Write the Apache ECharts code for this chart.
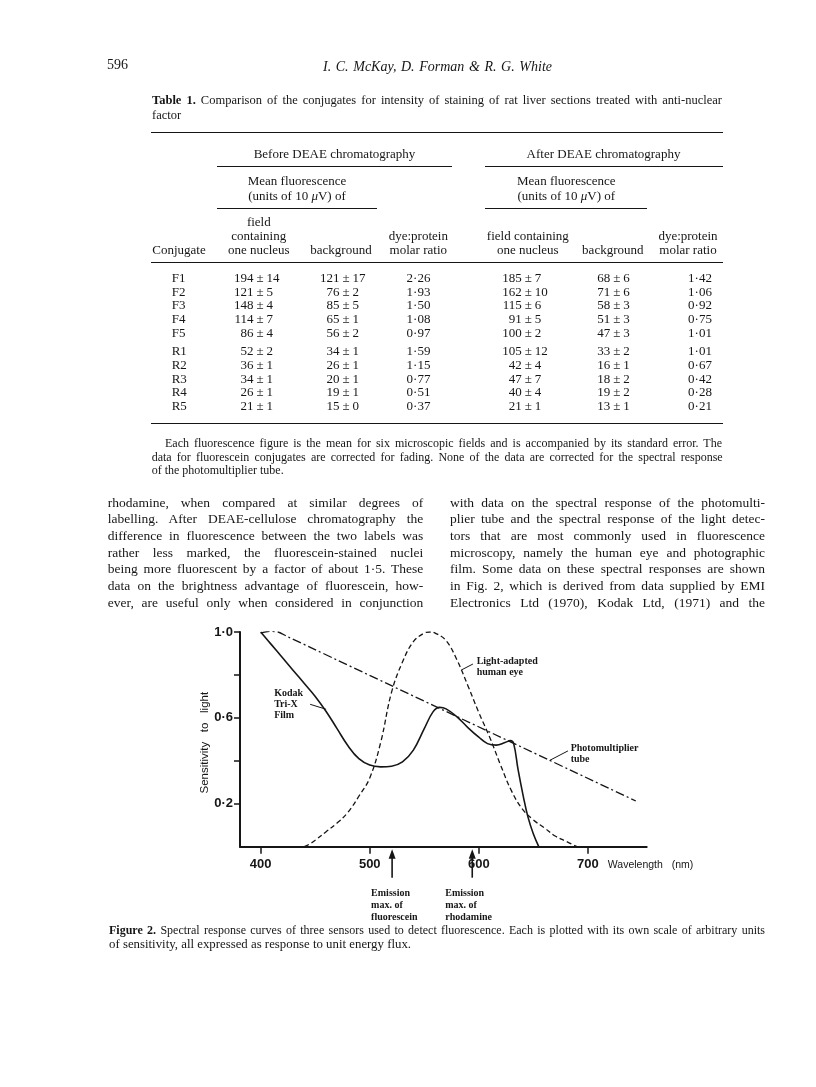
<!DOCTYPE html>
<html><head><meta charset="utf-8">
<script src="https://cdn.jsdelivr.net/npm/echarts@6/dist/echarts.min.js"></script>
<style>
html,body{margin:0;padding:0;background:#fff;}
#page{position:relative;width:816px;height:1087px;overflow:hidden;background:#fff;font-family:"Liberation Serif","Times New Roman",serif;color:#161616;}
#chart{position:absolute;left:0;top:0;width:816px;height:1087px;}
.t{position:absolute;white-space:nowrap;line-height:1;}
.rule{position:absolute;height:0;border-top-style:solid;border-top-color:#161616;}
</style></head><body><div id="page"><div id="chart"></div></div>
<script>
// ---------- Figure 2 data ----------
const wavelengthTicks = [400, 500, 600, 700];
const sensitivityTicks = [0.2, 0.4, 0.6, 0.8, 1.0];
const sensitivityLabels = [0.2, 0.6, 1.0];
const photomultiplier = [[400,0.995],[408,1.003],[416,1.0],[424,0.98],[744,0.213]];
const humanEye = [[440,0],[445,0.013],[450,0.03],[460,0.07],[470,0.11],[480,0.16],[490,0.235],[500,0.32],[510,0.485],[520,0.72],[530,0.86],[540,0.955],[550,0.995],[555,1.0],[560,0.995],[570,0.96],[580,0.87],[590,0.75],[600,0.625],[610,0.51],[620,0.38],[630,0.26],[640,0.175],[650,0.125],[660,0.088],[670,0.05],[680,0.025],[690,0]];
const kodakTriX = [[400,1.0],[410,0.94],[420,0.88],[430,0.82],[440,0.76],[450,0.70],[460,0.63],[470,0.55],[480,0.47],[490,0.41],[500,0.38],[510,0.372],[520,0.375],[530,0.395],[540,0.45],[550,0.55],[558,0.628],[564,0.649],[570,0.642],[580,0.605],[590,0.555],[600,0.51],[608,0.48],[616,0.473],[624,0.485],[629,0.494],[632,0.48],[636,0.36],[641,0.23],[645,0.14],[650,0.06],[655,0]];
const emissionMaxima = [520.5, 594];
const emissionNames = ['fluorescein', 'rhodamine'];

// ---------- Table 1 data ----------
const conjugates = ['F1','F2','F3','F4','F5','R1','R2','R3','R4','R5'];
const beforeField = [[194,14],[121,5],[148,4],[114,7],[86,4],[52,2],[36,1],[34,1],[26,1],[21,1]];
const beforeBackground = [[121,17],[76,2],[85,5],[65,1],[56,2],[34,1],[26,1],[20,1],[19,1],[15,0]];
const beforeRatio = ['2·26','1·93','1·50','1·08','0·97','1·59','1·15','0·77','0·51','0·37'];
const afterField = [[185,7],[162,10],[115,6],[91,5],[100,2],[105,12],[42,4],[47,7],[40,4],[21,1]];
const afterBackground = [[68,6],[71,6],[58,3],[51,3],[47,3],[33,2],[16,1],[18,2],[19,2],[13,1]];
const afterRatio = ['1·42','1·06','0·92','0·75','1·01','1·01','0·67','0·42','0·28','0·21'];

// ---------- Page text ----------
const captionTable = ['<b>Table 1.</b> Comparison of the conjugates for intensity of staining of rat liver sections treated with anti-nuclear','factor'];
const footnote = ['Each fluorescence figure is the mean for six microscopic fields and is accompanied by its standard error. The','data for fluorescein conjugates are corrected for fading. None of the data are corrected for the spectral response','of the photomultiplier tube.'];
const bodyLeft = ['rhodamine, when compared at similar degrees of','labelling. After DEAE-cellulose chromatography the','difference in fluorescence between the two labels was','rather less marked, the fluorescein-stained nuclei','being more fluorescent by a factor of about 1·5. These','data on the brightness advantage of fluorescein, how-','ever, are useful only when considered in conjunction'];
const bodyRight = ['with data on the spectral response of the photomulti-','plier tube and the spectral response of the light detec-','tors that are most commonly used in fluorescence','microscopy, namely the human eye and photographic','film. Some data on these spectral responses are shown','in Fig. 2, which is derived from data supplied by EMI','Electronics Ltd (1970), Kodak Ltd, (1971) and the'];
const captionFig = ['<b>Figure 2.</b> Spectral response curves of three sensors used to detect fluorescence. Each is plotted with its own scale of arbitrary units','of sensitivity, all expressed as response to unit energy flux.'];

const page = document.getElementById('page');
function txt(html, x, yc, o) {
  o = o || {};
  const d = document.createElement('div');
  d.className = 't';
  const fs = o.fs || 13;
  d.style.fontSize = fs + 'px';
  d.style.top = (yc - fs / 2) + 'px';
  if (o.bold) d.style.fontWeight = 'bold';
  if (o.italic) d.style.fontStyle = 'italic';
  if (o.family) d.style.fontFamily = o.family;
  d.innerHTML = html;
  page.appendChild(d);
  const w = d.getBoundingClientRect().width;
  let left = x;
  if (o.align === 'center') left = x - w / 2;
  else if (o.align === 'right') left = x - w;
  if (o.width) {
    const n = (d.textContent.match(/ /g) || []).length;
    if (!o.scaleOnly && w < o.width && n > 0) d.style.wordSpacing = ((o.width - w) / n) + 'px';
    else { d.style.transformOrigin = '0 0'; d.style.transform = 'scaleX(' + (o.width / w) + ')'; }
  }
  d.style.left = left + 'px';
  return d;
}
function rule(x1, x2, y, th) {
  const d = document.createElement('div');
  d.className = 'rule';
  d.style.left = x1 + 'px'; d.style.width = (x2 - x1) + 'px';
  d.style.top = (y - th / 2) + 'px'; d.style.borderTopWidth = th + 'px';
  page.appendChild(d);
}

// header
txt('596', 107, 65, {fs: 14});
txt('I. C. McKay, D. Forman &amp; R. G. White', 323, 67, {fs: 14, italic: true, width: 229});
// table caption
txt(captionTable[0], 152, 100, {fs: 12.5, width: 570});
txt(captionTable[1], 152, 115, {fs: 12.5});
rule(150.7, 723, 132.7, 1.8);
txt('Before DEAE chromatography', 334.5, 153.3, {align: 'center'});
txt('After DEAE chromatography', 603.5, 153.3, {align: 'center'});
rule(216.7, 452.3, 166.7, 1);
rule(485, 723, 166.7, 1);
txt('Mean fluorescence', 297, 180.7, {align: 'center'});
txt('(units of 10 <i>μ</i>V) of', 297, 195, {align: 'center'});
txt('Mean fluorescence', 566.3, 180.7, {align: 'center'});
txt('(units of 10 <i>μ</i>V) of', 566.3, 195, {align: 'center'});
rule(216.7, 376.7, 208.3, 1);
rule(485, 647.3, 208.3, 1);
txt('field', 258.8, 221.7, {align: 'center'});
txt('containing', 258.8, 235.7, {align: 'center'});
txt('one nucleus', 258.8, 249.3, {align: 'center'});
txt('Conjugate', 152.3, 249.3);
txt('background', 341, 249.3, {align: 'center'});
txt('dye:protein', 418.3, 235.7, {align: 'center'});
txt('molar ratio', 418.3, 249.3, {align: 'center'});
txt('field containing', 527.8, 235.7, {align: 'center'});
txt('one nucleus', 527.8, 249.3, {align: 'center'});
txt('background', 612.8, 249.3, {align: 'center'});
txt('dye:protein', 688, 235.7, {align: 'center'});
txt('molar ratio', 688, 249.3, {align: 'center'});
rule(150.7, 723, 262.7, 1);
const rowY = [277.3, 291, 304.8, 318.5, 332.3, 350.7, 364.4, 378.1, 391.9, 405.6];
function pm(v, x, y) {
  txt(String(v[0]), x - 6.5, y, {align: 'right'});
  txt('±', x, y, {align: 'center'});
  txt(String(v[1]), x + 6.5, y);
}
conjugates.forEach((c, i) => {
  const y = rowY[i];
  txt(c, 171.7, y);
  pm(beforeField[i], 260, y);
  pm(beforeBackground[i], 346, y);
  txt(beforeRatio[i], 418.5, y, {align: 'center'});
  pm(afterField[i], 528.3, y);
  pm(afterBackground[i], 616.7, y);
  txt(afterRatio[i], 700, y, {align: 'center'});
});
rule(150.7, 723, 423.3, 1.6);
txt(footnote[0], 165, 442.7, {fs: 12, width: 557});
txt(footnote[1], 151.7, 456.7, {fs: 12, width: 571});
txt(footnote[2], 151.7, 470.3, {fs: 12});
bodyLeft.forEach((s, i) => txt(s, 107.7, 502.3 + i * 16.73, {fs: 13.5, width: 315.6}));
bodyRight.forEach((s, i) => txt(s, 450, 502.3 + i * 16.73, {fs: 13.5, width: 315}));
txt(captionFig[0], 109, 930, {fs: 12, width: 656});
txt(captionFig[1], 109, 944, {fs: 12, width: 302, scaleOnly: true});

// ---------- Chart ----------
const INK = '#161616';
const SANS = '"Liberation Sans", Arial, sans-serif';
const chart = echarts.init(document.getElementById('chart'), null, {renderer: 'canvas'});
chart.setOption({
  animation: false,
  grid: {left: 240, top: 632, right: 169.3, bottom: 240.3, outerBoundsMode: 'none'},
  xAxis: {
    type: 'value', min: 381, max: 754,
    axisLine: {onZero: false, lineStyle: {color: INK, width: 2}},
    axisTick: {show: true, length: 7, customValues: wavelengthTicks, lineStyle: {color: INK, width: 1.5}},
    axisLabel: {customValues: wavelengthTicks, color: INK, fontSize: 13, fontWeight: 'bold', fontFamily: SANS, margin: 11},
    splitLine: {show: false}
  },
  yAxis: {
    type: 'value', min: 0, max: 1,
    axisLine: {show: true, lineStyle: {color: INK, width: 2}},
    axisTick: {show: true, length: 6, customValues: sensitivityTicks, lineStyle: {color: INK, width: 1.5}},
    axisLabel: {customValues: sensitivityLabels, formatter: v => v.toFixed(1).replace('.', '·'), color: INK, fontSize: 13, fontWeight: 'bold', fontFamily: SANS, margin: 7},
    splitLine: {show: false}
  },
  series: [
    {type: 'line', name: 'Photomultiplier tube', data: photomultiplier, showSymbol: false, smooth: 0.3, lineStyle: {color: INK, width: 1.3, type: [9, 3, 2, 3]}},
    {type: 'line', name: 'Light-adapted human eye', data: humanEye, showSymbol: false, smooth: 0.4, lineStyle: {color: INK, width: 1.3, type: [5, 3]}},
    {type: 'line', name: 'Kodak Tri-X Film', data: kodakTriX, showSymbol: false, smooth: 0.4, lineStyle: {color: INK, width: 1.6}}
  ]
});

const P = (x, y) => chart.convertToPixel({gridIndex: 0}, [x, y]);
const LBL = 'bold 10px "Liberation Serif", serif';
const g = [];
function leader(anchor, dx, dy) {
  const p = P(anchor[0], anchor[1]);
  g.push({type: 'line', shape: {x1: p[0], y1: p[1], x2: p[0] + dx, y2: p[1] + dy}, style: {stroke: INK, lineWidth: 1}});
  return p;
}
function label(text, x, yc, lh) {
  g.push({type: 'text', x: x, y: yc, style: {text: text, fill: INK, font: LBL, textAlign: 'left', textVerticalAlign: 'middle', lineHeight: lh}});
}
// Kodak label
let a = leader([460, 0.64], -16, -5);
label('Kodak\nTri-X\nFilm', a[0] - 52, a[1] - 5, 10.8);
// human eye label
a = leader([584, 0.823], 11.6, -6);
label('Light-adapted\nhuman eye', a[0] + 15.3, a[1] - 2.8, 11);
// photomultiplier label
a = leader([665, 0.402], 18.3, -9.5);
label('Photomultiplier\ntube', a[0] + 21, a[1] - 6.5, 10.5);
// emission arrows
const labelShift = [-21, -27];
emissionMaxima.forEach((lam, i) => {
  const p = P(lam, 0);
  const x = p[0], y0 = p[1];
  g.push({type: 'line', shape: {x1: x, y1: y0 + 8, x2: x, y2: y0 + 31}, style: {stroke: INK, lineWidth: 1.6}});
  g.push({type: 'polygon', shape: {points: [[x, y0 + 2.5], [x - 3.5, y0 + 12], [x + 3.5, y0 + 12]]}, style: {fill: INK}});
  label('Emission\nmax. of\n' + emissionNames[i], x + labelShift[i], y0 + 59, 12);
});
// axis titles
const o = P(381, 0);
g.push({type: 'text', x: o[0] - 35, y: o[1] - 104, rotation: Math.PI / 2, style: {text: 'Sensitivity   to   light', fill: INK, font: '11.5px ' + SANS, textAlign: 'center', textVerticalAlign: 'middle'}});
const e = P(700, 0);
g.push({type: 'text', x: e[0] + 20, y: e[1] + 18, style: {text: 'Wavelength   (nm)', fill: INK, font: '10.5px ' + SANS, textAlign: 'left', textVerticalAlign: 'middle'}});
chart.setOption({graphic: g});
</script></body></html>
